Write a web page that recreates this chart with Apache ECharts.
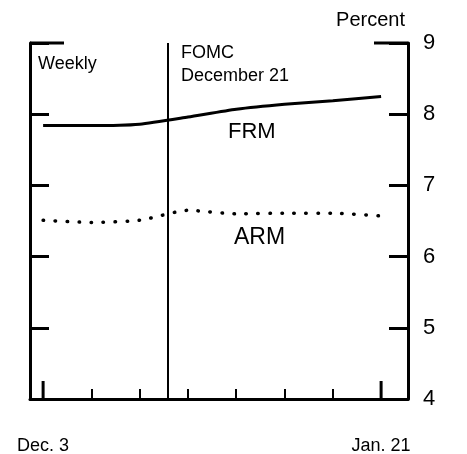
<!DOCTYPE html>
<html>
<head>
<meta charset="utf-8">
<script src="https://cdn.jsdelivr.net/npm/echarts@6/dist/echarts.min.js"></script>
<style>
html,body{margin:0;padding:0;background:#fff;}
#c{width:467px;height:454px;}
</style>
</head>
<body>
<div id="c"></div>
<script>
// Days since Dec. 3 (weekly observations)
const days = [0, 7, 14, 21, 28, 35, 42, 49];
const frm = [7.84, 7.84, 7.86, 7.96, 8.07, 8.14, 8.19, 8.25];
const arm = [6.51, 6.48, 6.51, 6.65, 6.60, 6.61, 6.61, 6.57];
const fomcDay = 18;
const weekTicks = [0, 7, 14, 21, 28, 35, 42, 49];
const dateLabelDays = [0, 49];
const dateLabels = ['Dec. 3', 'Jan. 21'];
const yTicks = [4, 5, 6, 7, 8, 9];
const xMin = -1.9, xMax = 52.9, yMin = 4, yMax = 9;

const font = 'Arial, "Liberation Sans", Helvetica, sans-serif';
const chart = echarts.init(document.getElementById('c'), null, {renderer: 'canvas'});
const axisLine = {show: true, onZero: false, lineStyle: {color: '#000', width: 3}};

// Long frame ticks: [x, y, kind]
const longTicks = [
  [xMin, yMax, 'left'], [xMax, yMax, 'right'],
  [dateLabelDays[0], yMin, 'up'], [dateLabelDays[1], yMin, 'up']
];

chart.setOption({
  animation: false,
  backgroundColor: '#fff',
  grid: {left: 30, right: 59, top: 43, bottom: 55, outerBoundsMode: 'none', containLabel: false},
  xAxis: {type: 'value', min: xMin, max: xMax, position: 'bottom',
     axisLine: axisLine,
     axisTick: {show: true, inside: true, length: 10, customValues: weekTicks,
       lineStyle: {color: '#000', width: 2}},
     axisLabel: {show: true, margin: 38, fontFamily: font, fontSize: 18, color: '#000',
       customValues: dateLabelDays,
       formatter: v => dateLabels[dateLabelDays.indexOf(v)] || ''},
     splitLine: {show: false}},
  yAxis: [
    {type: 'value', min: yMin, max: yMax, interval: 1, position: 'right',
     name: 'Percent', nameLocation: 'end', nameGap: 13,
     nameTextStyle: {fontFamily: font, fontSize: 20, color: '#000', align: 'right',
       verticalAlign: 'bottom', padding: [0, 3, 0, 0]},
     axisLine: axisLine,
     axisTick: {show: true, inside: true, length: 19, lineStyle: {color: '#000', width: 3}},
     axisLabel: {show: true, margin: 15, fontFamily: font, fontSize: 22, color: '#000'},
     splitLine: {show: false}},
    {type: 'value', min: yMin, max: yMax, interval: 1, position: 'left',
     axisLine: axisLine,
     axisTick: {show: true, inside: true, length: 19, lineStyle: {color: '#000', width: 3}},
     axisLabel: {show: false}, splitLine: {show: false}}
  ],
  series: [
    {type: 'line', name: 'FRM', xAxisIndex: 0, yAxisIndex: 0,
     data: days.map((d, i) => [d, frm[i]]),
     showSymbol: false, smooth: 0.2,
     lineStyle: {color: '#000', width: 3},
     markLine: {silent: true, symbol: 'none', label: {show: false},
       lineStyle: {color: '#000', width: 2, type: 'solid'},
       data: [{xAxis: fomcDay}]}},
    {type: 'line', name: 'ARM', xAxisIndex: 0, yAxisIndex: 0,
     data: days.map((d, i) => [d, arm[i]]),
     showSymbol: false, smooth: 0.2,
     lineStyle: {color: '#000', width: 3.5, type: [0.5, 11.5], cap: 'round'}},
    {type: 'custom', name: 'frameTicks', xAxisIndex: 0, yAxisIndex: 0, silent: true,
     data: longTicks, clip: false,
     renderItem: function (params, api) {
       const p = api.coord([api.value(0), api.value(1)]);
       const kind = longTicks[params.dataIndex][2];
       let shape;
       if (kind === 'left') shape = {x1: p[0], y1: p[1], x2: p[0] + 34, y2: p[1]};
       else if (kind === 'right') shape = {x1: p[0], y1: p[1], x2: p[0] - 34, y2: p[1]};
       else shape = {x1: p[0], y1: p[1], x2: p[0], y2: p[1] - 18};
       return {type: 'line', shape: shape, style: {stroke: '#000', lineWidth: 3}};
     }}
  ],
  graphic: [
    {type: 'text', left: 38, top: 55, style: {text: 'Weekly', font: '18px ' + font, fill: '#000'}},
    {type: 'text', left: 181, top: 42, style: {text: 'FOMC\nDecember 21', font: '18px ' + font, fill: '#000', lineHeight: 23}},
    {type: 'text', left: 228, top: 121, style: {text: 'FRM', font: '22px ' + font, fill: '#000'}},
    {type: 'text', left: 234, top: 226, style: {text: 'ARM', font: '23px ' + font, fill: '#000'}}
  ]
});
</script>
</body>
</html>
